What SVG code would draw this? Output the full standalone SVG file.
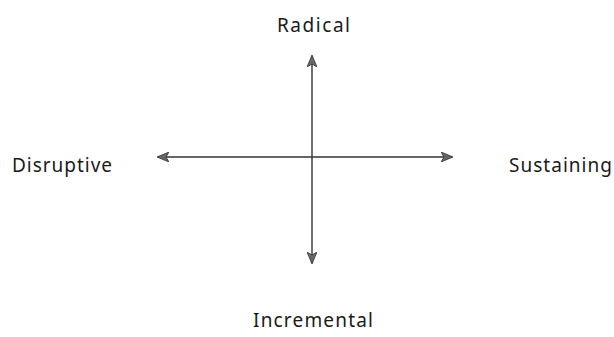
<svg xmlns="http://www.w3.org/2000/svg" width="614" height="337" viewBox="0 0 614 337">
<style>
.lbl{font-family:"Noto Sans","Open Sans",sans-serif;font-size:19px;fill:#1a1a1a}
.ax{stroke:#333;stroke-width:1.4;fill:none}
</style>
<defs>
<marker id="ah" viewBox="0 0 12 10" refX="11" refY="5" markerWidth="12" markerHeight="10" markerUnits="userSpaceOnUse" orient="auto-start-reverse">
<path d="M0,0 L12,5 L0,10 L3,5 Z" fill="#666" stroke="#333" stroke-width="0.8"/>
</marker>
</defs>
<rect width="614" height="337" fill="#fff"/>
<g id="connectors">
<line class="ax" x1="312" y1="56" x2="312" y2="263" marker-start="url(#ah)" marker-end="url(#ah)"/>
<line class="ax" x1="158" y1="157" x2="452" y2="157" marker-start="url(#ah)" marker-end="url(#ah)"/>
</g>
<g id="radical"><text class="lbl" x="277" y="32" textLength="73">Radical</text></g>
<g id="disruptive"><text class="lbl" x="12" y="172" textLength="100">Disruptive</text></g>
<g id="sustaining"><text class="lbl" x="509" y="172" textLength="103">Sustaining</text></g>
<g id="incremental"><text class="lbl" x="253" y="327" textLength="120">Incremental</text></g>
</svg>
